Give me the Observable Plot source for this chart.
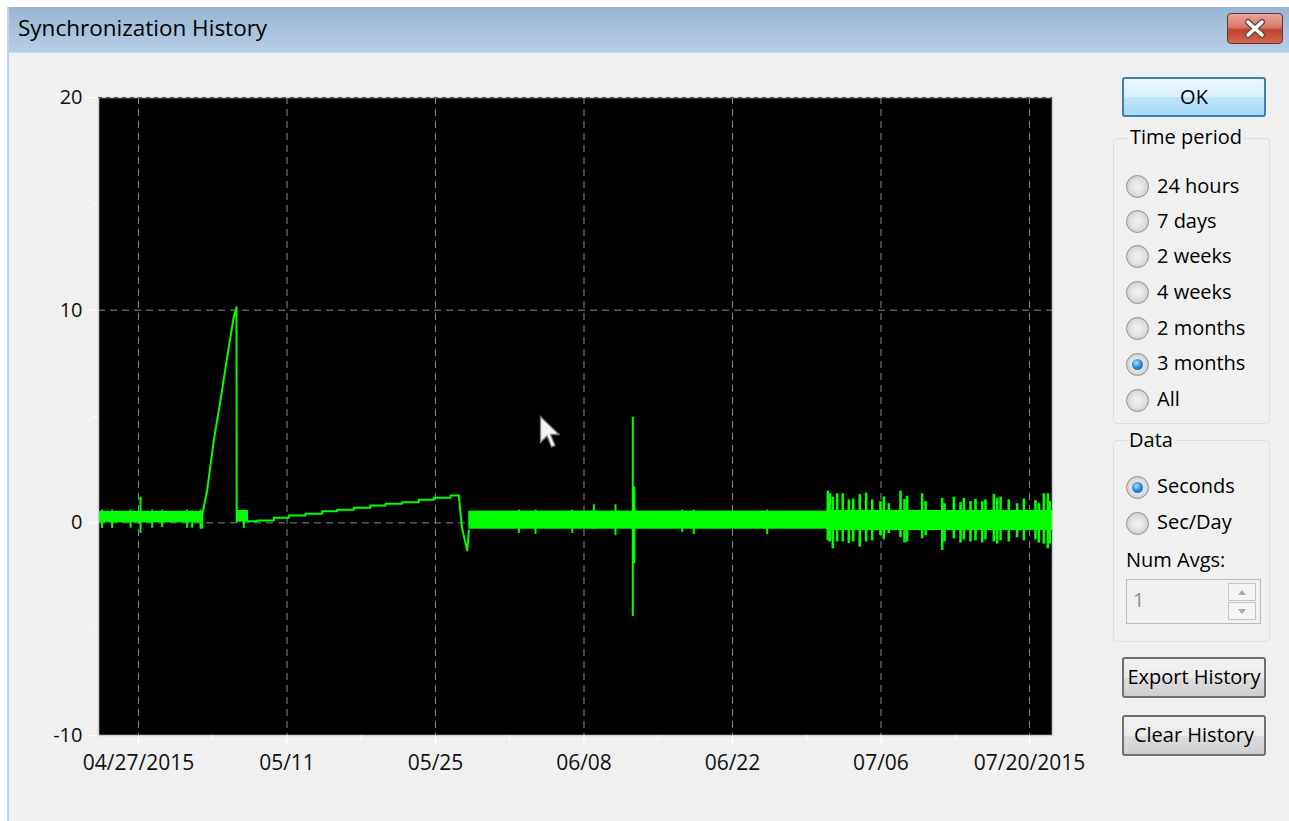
<!DOCTYPE html>
<html><head><meta charset="utf-8">
<script src="https://cdn.jsdelivr.net/npm/d3@7"></script>
<script src="https://cdn.jsdelivr.net/npm/@observablehq/plot@0.6"></script>
<style>
html,body{margin:0;padding:0;background:#fff;width:1289px;height:821px;overflow:hidden;font-family:"Open Sans",sans-serif;color:#000;}
.abs{position:absolute;}
#win{left:7px;top:7px;width:1282px;height:814px;background:#f0f0f0;border-left:2px solid #bcd3ea;box-sizing:border-box;}
#titlebar{left:9px;top:7px;width:1280px;height:45px;background:linear-gradient(#99b5d3,#b6cde6);border-bottom:1px solid #c9dbee;}
#title{left:18px;top:13px;font-size:22.5px;line-height:30px;white-space:nowrap;}
#close{left:1227px;top:13px;width:56px;height:31px;border:1px solid #6a3434;border-radius:4px;box-sizing:border-box;
 background:linear-gradient(#e9a597 0%,#d9796a 45%,#c2412c 55%,#d4684f 100%);}
.btn{box-sizing:border-box;border-radius:3px;text-align:center;font-size:20px;white-space:nowrap;}
#ok{left:1122px;top:77px;width:144px;height:40px;border:2px solid #3c7fb1;line-height:35px;
 background:linear-gradient(#eaf6fd 0%,#d9f0fc 50%,#bee6fd 51%,#a7d9f5 100%);}
.gray{left:1122px;width:144px;height:41px;border:2px solid #707070;line-height:36px;
 background:linear-gradient(#f2f2f2 0%,#ebebeb 50%,#dddddd 51%,#cfcfcf 100%);}
.group{box-sizing:border-box;border:1px solid #d5dfe5;border-radius:4px;}
.glabel{font-size:20px;line-height:24px;background:#f0f0f0;padding:0 2px;white-space:nowrap;}
.radio{width:23px;height:23px;border-radius:50%;border:1px solid #8f8f8f;box-sizing:border-box;
 background:radial-gradient(circle at 50% 50%,#f2f2f2 0%,#e3e3e3 45%,#cbcbcb 80%,#dcdcdc 100%);}
.radio.on::after{content:"";position:absolute;left:5px;top:5px;width:11px;height:11px;border-radius:50%;
 background:radial-gradient(circle at 40% 35%,#a8e4ff 0%,#2c8fe0 45%,#0f4f91 100%);}
.rlabel{font-size:20px;line-height:24px;white-space:nowrap;}
#edit{left:1126px;top:579px;width:135px;height:45px;border:1px solid #bcbcbc;box-sizing:border-box;background:#f0f0f0;}
.spin{left:1228px;width:28px;height:18px;border:1px solid #c4c4c4;box-sizing:border-box;background:#f4f4f4;}
#chart{left:0;top:60px;}
</style></head>
<body>
<div id="win" class="abs"></div>
<div id="titlebar" class="abs"></div>
<div id="title" class="abs">Synchronization History</div>
<div id="close" class="abs"><svg width="54" height="29" style="position:absolute;left:0;top:0">
<path d="M20 8 L34 21 M34 8 L20 21" stroke="#5a4a4a" stroke-width="6" stroke-linecap="round"/>
<path d="M20 8 L34 21 M34 8 L20 21" stroke="#ffffff" stroke-width="3.5" stroke-linecap="round"/></svg></div>

<div id="ok" class="abs btn">OK</div>

<div class="abs group" style="left:1113px;top:138px;width:157px;height:286px"></div>
<div class="abs glabel" style="left:1128px;top:125px">Time period</div>

<div class="abs group" style="left:1113px;top:440px;width:157px;height:202px"></div>
<div class="abs glabel" style="left:1127px;top:428px">Data</div>

<div class="abs rlabel" style="left:1126px;top:548px">Num Avgs:</div>
<div id="edit" class="abs"><div class="abs rlabel" style="left:6px;top:8px;color:#8d8d8d">1</div></div>
<div class="abs spin" style="top:583px"><svg width="26" height="16" style="position:absolute"><path d="M9 11 L13 6 L17 11 Z" fill="#a9a9a9"/></svg></div>
<div class="abs spin" style="top:602px"><svg width="26" height="16" style="position:absolute"><path d="M9 6 L13 11 L17 6 Z" fill="#a9a9a9"/></svg></div>

<div class="abs btn gray" style="top:657px">Export History</div>
<div class="abs btn gray" style="top:715px">Clear History</div>

<div id="radios"></div>
<div id="chart" class="abs"></div>

<svg class="abs" style="left:539px;top:415px" width="24" height="36">
<path d="M1.5 1.5 L1.5 27.5 L8 21 L12.5 32 L16 30.5 L11.5 19.5 L20 19.5 Z" fill="#f4f4f4" stroke="#7a7a7a" stroke-width="1.3"/></svg>

<script>
// ---------- window controls ----------
const periodOptions = ["24 hours","7 days","2 weeks","4 weeks","2 months","3 months","All"];
const periodSelected = "3 months";
const dataOptions = ["Seconds","Sec/Day"];
const dataSelected = "Seconds";

// ---------- chart data (x in days after 2015-04-27 00:00 UTC, y in seconds) ----------
const xDomainDays = [-3.77, 86.17];
const xTickDates = ["2015-04-27","2015-05-11","2015-05-25","2015-06-08","2015-06-22","2015-07-06","2015-07-20"];
const xTickLabels = ["04/27/2015","05/11","05/25","06/08","06/22","07/06","07/20/2015"];
const xMinorDates = ["2015-05-04","2015-05-18","2015-06-01","2015-06-15","2015-06-29","2015-07-13"];
const yTicks = [20, 10, 0, -10];
const yTickLabels = ["20", "10", "0", "-10"];
const yMinorTicks = [15, 5, -5];
const yGridValues = [10, 0];

// dense noise bands: start day, end day, low, high
const bandStart = [-3.77, 9.24, 31.14, 64.99];
const bandEnd   = [6.07, 10.37, 64.99, 86.17];
const bandLow   = [0.00, 0.03, -0.30, -0.36];
const bandHigh  = [0.54, 0.58, 0.55, 0.58];

// ramp up to 10 s and drop
const rampDay = [6.02, 6.47, 7.10, 7.73, 8.36, 8.98, 9.24, 9.26];
const rampVal = [0.40, 1.52, 3.87, 5.76, 7.79, 9.67, 10.14, 0.05];

// slow staircase drift
const driftDay = [10.37, 11.19, 12.76, 14.17, 15.74, 17.32, 18.73, 20.30, 21.87, 23.29, 24.86, 26.43, 27.84, 29.41, 30.20];
const driftVal = [0.08, 0.11, 0.24, 0.35, 0.43, 0.55, 0.62, 0.71, 0.82, 0.90, 0.97, 1.09, 1.18, 1.29, 1.29];

// correction dip
const dipDay = [30.20, 30.36, 30.52, 31.00, 31.14];
const dipVal = [1.29, 0.43, -0.28, -1.30, -0.36];

// individual spikes: day, low, high
const spikeDay = [
 -3.43, -2.48, -0.75, 0.19, 1.29, 2.23, 4.59, 5.06, 5.85, 6.00, 9.93,
 35.86, 37.43, 40.89, 42.93, 44.97, 51.26, 52.35, 59.27,
 46.60, 46.70,
 64.99, 65.18, 65.46, 65.87, 66.40, 66.97, 67.38, 68.00, 68.60, 69.17, 69.95, 70.27, 70.74,
 71.84, 72.22, 72.47, 73.88, 74.20, 75.77, 75.99, 76.87, 77.50, 77.81, 78.44, 78.91, 79.54,
 79.85, 80.64, 80.95, 81.27, 82.05, 82.84, 83.47, 84.57, 84.88, 85.35, 85.73, 85.92];
const spikeLow = [
 -0.27, -0.27, -0.25, -0.50, -0.25, -0.22, -0.25, -0.25, -0.30, -0.30, -0.26,
 -0.50, -0.55, -0.50, -0.30, -0.60, -0.45, -0.55, -0.55,
 -4.40, -1.92,
 -0.85, -0.90, -1.22, -0.90, -0.90, -0.98, -0.90, -1.14, -0.90, -0.85, -0.60, -0.80, -0.50,
 -0.70, -0.95, -0.90, -0.75, -0.60, -1.30, -0.90, -0.75, -0.95, -0.80, -0.90, -0.85, -0.95,
 -0.80, -0.90, -1.00, -0.85, -0.90, -0.70, -0.85, -0.80, -0.95, -1.00, -1.22, -1.00];
const spikeHigh = [
 0.60, 0.60, 0.60, 1.21, 0.60, 0.60, 0.60, 0.55, 0.60, 0.50, 0.60,
 0.60, 0.60, 0.60, 0.85, 0.85, 0.60, 0.60, 0.60,
 4.97, 1.68,
 1.49, 1.37, 1.20, 1.37, 1.37, 1.08, 1.12, 1.33, 1.40, 1.08, 1.00, 1.21, 0.90,
 1.49, 1.10, 1.25, 1.37, 1.00, 1.15, 0.90, 1.21, 0.95, 1.15, 1.00, 1.10, 1.00,
 1.08, 1.33, 1.15, 1.21, 1.08, 0.90, 1.12, 1.05, 0.90, 1.37, 1.37, 1.00];

// ---------- helpers ----------
const day0 = Date.UTC(2015, 3, 27);
const toDate = d => new Date(day0 + d * 864e5);
const parse = s => new Date(s + "T00:00:00Z");
const xLabelOf = new Map(xTickDates.map((s, i) => [+parse(s), xTickLabels[i]]));
const yLabelOf = new Map(yTicks.map((v, i) => [v, yTickLabels[i]]));

const bands = bandStart.map((s, i) => ({x1: toDate(s), x2: toDate(bandEnd[i]), y1: bandLow[i], y2: bandHigh[i]}));
const ramp = rampDay.map((d, i) => ({x: toDate(d), y: rampVal[i]}));
const drift = driftDay.map((d, i) => ({x: toDate(d), y: driftVal[i]}));
const dip = dipDay.map((d, i) => ({x: toDate(d), y: dipVal[i]}));
const spikes = spikeDay.map((d, i) => ({x: toDate(d), y1: spikeLow[i], y2: spikeHigh[i], w: d >= 64.9 ? 2.6 : (d > 46.65 && d < 46.75 ? 3 : 2)}));

const GREEN = "#00ff00";
const GRID = "#8a8a8a";

const chart = Plot.plot({
  width: 1100,
  height: 730,
  marginLeft: 98,
  marginRight: 48,
  marginTop: 37,
  marginBottom: 55,
  style: {background: "transparent", fontFamily: "Open Sans", fontSize: "20px", overflow: "visible"},
  x: {type: "utc", domain: xDomainDays.map(toDate), axis: null},
  y: {domain: [-10, 20], axis: null},
  marks: [
    Plot.frame({fill: "black"}),
    Plot.ruleX(xTickDates.map(parse), {x: d => d, stroke: GRID, strokeDasharray: "7,5"}),
    Plot.ruleY(yGridValues, {y: d => d, stroke: GRID, strokeDasharray: "7,5"}),
    Plot.rect(bands, {x1: "x1", x2: "x2", y1: "y1", y2: "y2", fill: GREEN}),
    Plot.ruleX(spikes, {x: "x", y1: "y1", y2: "y2", stroke: GREEN, strokeWidth: "w"}),
    Plot.line(ramp, {x: "x", y: "y", stroke: GREEN, strokeWidth: 2}),
    Plot.line(drift, {x: "x", y: "y", stroke: GREEN, strokeWidth: 2, curve: "step-after"}),
    Plot.line(dip, {x: "x", y: "y", stroke: GREEN, strokeWidth: 2}),
    Plot.frame({stroke: "#cfcfcf", strokeWidth: 1.5}),
    Plot.ruleY([20], {y: d => d, stroke: "#555", strokeDasharray: "4,4"}),
    Plot.axisY(yTicks, {anchor: "left", tickSize: 10, tickPadding: 6, stroke: "white", fill: "#111", fontSize: 20, fontFamily: "Open Sans", tickFormat: d => yLabelOf.get(d), label: null}),
    Plot.axisY(yMinorTicks, {anchor: "left", tickSize: 5, stroke: "white", fill: "none", label: null}),
    Plot.axisX(xTickDates.map(parse), {anchor: "bottom", tickSize: 10, tickPadding: 10, stroke: "white", fill: "#111", fontSize: 21, fontFamily: "Open Sans", tickFormat: d => xLabelOf.get(+d), label: null}),
    Plot.axisX(xMinorDates.map(parse), {anchor: "bottom", tickSize: 5, stroke: "white", fill: "none", label: null})
  ]
});
document.getElementById("chart").appendChild(chart);

// ---------- radios ----------
const radios = document.getElementById("radios");
function addRadio(label, y, on) {
  const r = document.createElement("div");
  r.className = "abs radio" + (on ? " on" : "");
  r.style.left = "1126px"; r.style.top = (y - 11.5) + "px";
  radios.appendChild(r);
  const t = document.createElement("div");
  t.className = "abs rlabel"; t.textContent = label;
  t.style.left = "1157px"; t.style.top = (y - 13) + "px";
  radios.appendChild(t);
}
const periodY = [186.5, 221.5, 256.5, 292.5, 328.5, 364, 400];
periodOptions.forEach((p, i) => addRadio(p, periodY[i], p === periodSelected));
const dataY = [487, 523];
dataOptions.forEach((p, i) => addRadio(p, dataY[i], p === dataSelected));
</script>
</body></html>
